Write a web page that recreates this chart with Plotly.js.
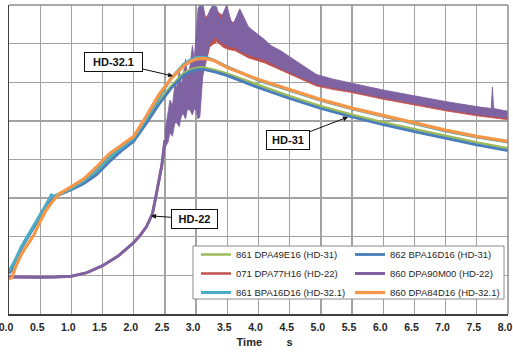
<!DOCTYPE html>
<html><head><meta charset="utf-8">
<script src="https://cdn.plot.ly/plotly-3.0.1.min.js"></script>
<style>html,body{margin:0;padding:0;background:#fff;}#chart{width:513px;height:354px;}</style>
</head><body><div id="chart"></div>
<script>
// ---- data ----
const xTickVals = [0,0.5,1,1.5,2,2.5,3,3.5,4,4.5,5,5.5,6,6.5,7,7.5,8];
const xTickText = ['0.0','0.5','1.0','1.5','2.0','2.5','3.0','3.5','4.0','4.5','5.0','5.5','6.0','6.5','7.0','7.5','8.0'];

const seriesNames = ['861 DPA49E16 (HD-31)','862 BPA16D16 (HD-31)','071 DPA77H16 (HD-22)','860 DPA90M00 (HD-22)','861 BPA16D16 (HD-32.1)','860 DPA84D16 (HD-32.1)'];

// HD-22, smooth rising part (both HD-22 gauges)
const hd22X = [0,0.25,0.5,0.75,1.0,1.25,1.5,1.75,2.0,2.1,2.2,2.25,2.3,2.35,2.4,2.45,2.5];
const hd22Y = [0.96,0.95,0.95,0.96,0.98,1.07,1.25,1.5,1.85,2.03,2.25,2.42,2.6,3.0,3.4,3.85,4.5];

// HD-22 noisy part, envelope of 860 DPA90M00
const bandX       = [2.5,2.55,2.58,2.62,2.66,2.69,2.73,2.76,2.79,2.83,2.86,2.9,2.94,2.97,3.0,3.03,3.06,3.11,3.16,3.22,3.27,3.33,3.38,3.44,3.49,3.54,3.58,3.62,3.7,3.84,3.95,4.1,4.2,4.37,4.65,4.93,5.2,5.47,6.0,6.5,7.0,7.5,7.73,7.75,7.77,8.0];
const purpleUpper = [4.7,5.3,5.54,5.4,5.95,5.88,6.3,5.95,6.14,6.6,6.2,6.4,6.95,6.6,7.27,7.9,8.0,8.0,7.6,7.87,8.0,7.95,7.6,7.8,8.0,7.7,7.5,7.6,7.9,7.43,7.3,7.1,6.95,6.8,6.5,6.2,6.08,5.98,5.8,5.65,5.5,5.37,5.32,5.88,5.32,5.25];
const purpleLower = [4.3,4.45,4.69,4.6,4.95,4.95,4.85,5.1,5.2,5.05,5.3,5.28,5.15,5.3,5.28,5.05,5.1,6.24,6.6,7.0,7.1,7.17,7.05,7.0,6.95,6.92,6.9,6.91,6.8,6.71,6.65,6.58,6.5,6.35,6.15,5.95,5.85,5.78,5.6,5.45,5.3,5.17,5.12,5.12,5.12,5.07];

// HD-22 noisy part, envelope of 071 DPA77H16
const redX     = [3.0,3.11,3.22,3.33,3.44,3.54,3.62,3.84,4.1,4.37,4.65,4.93,5.2,5.47,6.0,6.5,7.0,7.5,8.0];
const redUpper = [7.0,7.6,7.8,7.85,7.7,7.6,7.5,7.3,7.0,6.7,6.4,6.15,6.0,5.9,5.72,5.57,5.42,5.3,5.18];
const redLower = [5.4,6.2,6.92,7.05,6.9,6.84,6.82,6.63,6.5,6.3,6.1,5.9,5.81,5.74,5.56,5.41,5.26,5.13,5.03];

// HD-31
const hd31X  = [0,0.05,0.1,0.2,0.3,0.4,0.5,0.6,0.7,0.8,1.0,1.2,1.4,1.6,1.8,2.0,2.2,2.4,2.6,2.8,2.9,3.0,3.1,3.2,3.3,3.5,4.0,4.5,5.0,5.5,6.0,6.5,7.0,7.5,8.0];
const blueY  = [1.05,1.15,1.35,1.7,1.98,2.25,2.52,2.78,2.98,3.08,3.22,3.38,3.6,3.93,4.22,4.47,4.93,5.42,5.85,6.18,6.27,6.32,6.34,6.3,6.27,6.17,5.86,5.58,5.32,5.1,4.9,4.72,4.55,4.38,4.23];
const greenY = [1.08,1.18,1.38,1.72,2.0,2.28,2.54,2.8,3.0,3.12,3.27,3.44,3.67,4.0,4.28,4.53,5.0,5.5,5.9,6.24,6.32,6.37,6.39,6.35,6.32,6.22,5.92,5.64,5.38,5.16,4.96,4.78,4.61,4.44,4.29];

// HD-32.1
const aquaX  = [0,0.05,0.1,0.2,0.3,0.4,0.5,0.6,0.68,0.72,0.8,1.0,1.2,1.4,1.6,1.8,2.0,2.2,2.4,2.6,2.8,2.9,3.0,3.1,3.2,3.3,3.5,4.0,4.5,5.0,5.5,6.0,6.5,7.0,7.5,8.0];
const aquaY  = [1.1,1.25,1.4,1.75,2.02,2.3,2.55,2.85,3.08,3.05,3.1,3.25,3.45,3.72,4.05,4.3,4.55,5.05,5.6,6.1,6.46,6.57,6.64,6.65,6.62,6.56,6.4,6.05,5.78,5.53,5.31,5.12,4.92,4.74,4.58,4.45];
const orangeX = [0,0.05,0.1,0.2,0.3,0.4,0.5,0.6,0.7,0.8,1.0,1.2,1.4,1.6,1.8,2.0,2.2,2.4,2.6,2.8,2.9,3.0,3.1,3.2,3.3,3.5,4.0,4.5,5.0,5.5,6.0,6.5,7.0,7.5,8.0];
const orangeY = [0.9,0.95,1.2,1.55,1.8,2.05,2.4,2.7,2.92,3.1,3.3,3.5,3.8,4.14,4.37,4.6,5.12,5.67,6.1,6.42,6.53,6.6,6.62,6.6,6.55,6.38,6.07,5.8,5.55,5.33,5.14,4.94,4.76,4.6,4.47];

// ---- styling ----
const C = {green:'#9BBB59', blue:'#4A7EBB', red:'#C0504D', purple:'#7E62A1', aqua:'#4BACC6', orange:'#F79646'};
const FONT = 'Arial, "Liberation Sans", sans-serif';

function lineTrace(name, x, y, color, width, legend, rank){
  return {type:'scatter', mode:'lines', name, x, y, line:{color, width}, legend, legendrank:rank, hoverinfo:'skip'};
}
function bandTrace(x, up, lo, color, group){
  return {type:'scatter', mode:'lines', x:x.concat(x.slice().reverse()), y:up.concat(lo.slice().reverse()),
    fill:'toself', fillcolor:color, line:{color, width:0.8}, showlegend:false, legendgroup:group, hoverinfo:'skip'};
}

const traces = [
  bandTrace(redX, redUpper, redLower, C.red, 'red'),
  Object.assign(lineTrace(seriesNames[2], hd22X, hd22Y, C.red, 2.5, 'legend', 2), {legendgroup:'red'}),
  Object.assign(lineTrace(seriesNames[3], hd22X, hd22Y, C.purple, 3, 'legend2', 2), {legendgroup:'purple'}),
  bandTrace(bandX, purpleUpper, purpleLower, C.purple, 'purple'),
  lineTrace(seriesNames[0], hd31X, greenY, C.green, 2.5, 'legend', 1),
  lineTrace(seriesNames[1], hd31X, blueY, C.blue, 2.8, 'legend2', 1),
  lineTrace(seriesNames[4], aquaX, aquaY, C.aqua, 3, 'legend', 3),
  lineTrace(seriesNames[5], orangeX, orangeY, C.orange, 3.2, 'legend2', 3)
];

const legendBase = {yanchor:'top', xanchor:'left', y:0.2395, bgcolor:'rgba(0,0,0,0)', borderwidth:0,
  font:{family:FONT, size:9.5, color:'#262626'}, tracegroupgap:0, orientation:'v'};

const annFont = {family:FONT, size:11, color:'#111', weight:'bold'};
function callout(text, x, y, ax, ay, w){
  return {x, y, xref:'x', yref:'y', text, ax, ay, axref:'pixel', ayref:'pixel', showarrow:true,
    arrowhead:2, arrowsize:1, arrowwidth:1, arrowcolor:'#111', font:annFont, bgcolor:'#fff',
    bordercolor:'#111', borderwidth:1, borderpad:2, width:w, height:14};
}

const NB = '\u00a0';
const layout = {
  width:513, height:354, margin:{l:9, r:5, t:5, b:40, autoexpand:false},
  paper_bgcolor:'#fff', plot_bgcolor:'#fff', showlegend:true,
  font:{family:FONT, color:'#262626'},
  xaxis:{range:[0,8], tickvals:xTickVals, ticktext:xTickText, showgrid:true, gridcolor:'#a3a3a3', gridwidth:1.3,
    zeroline:false, showline:true, linecolor:'#404040', linewidth:1.5, ticks:'', ticklabelstandoff:3, automargin:false,
    ticklabeloverflow:'allow', ticklabelshift:-3,
    tickfont:{family:FONT, size:10.5, color:'#262626', weight:'bold'},
    title:{text:'\u200b' + NB.repeat(4) + 'Time' + NB.repeat(8) + 's', font:{family:FONT, size:11, color:'#262626', weight:'bold'}, standoff:6}},
  yaxis:{range:[0,8], dtick:1, showgrid:true, gridcolor:'#a3a3a3', gridwidth:1.3, zeroline:false, automargin:false,
    showline:true, linecolor:'#404040', linewidth:1.5, showticklabels:false, ticks:''},
  legend:Object.assign({}, legendBase, {x:0.3747}),
  legend2:Object.assign({}, legendBase, {x:0.6834}),
  shapes:[
    {type:'line', xref:'paper', yref:'paper', x0:0, x1:1, y0:1, y1:1, line:{color:'#8c8c8c', width:1.5}},
    {type:'line', xref:'paper', yref:'paper', x0:1, x1:1, y0:0, y1:1, line:{color:'#8c8c8c', width:1.5}},
    {type:'rect', xref:'paper', yref:'paper', x0:0.3687, x1:0.992, y0:0.0485, y1:0.22, layer:'above',
      fillcolor:'#fff', line:{color:'#8c8c8c', width:1}}
  ],
  annotations:[
    callout('HD-32.1', 2.63, 6.16, -60, -14, 53),
    callout('HD-31', 5.435, 5.10, -60, 23, 38),
    callout('HD-22', 2.277, 2.54, 43, 3, 41)
  ]
};

Plotly.newPlot('chart', traces, layout, {staticPlot:true, displayModeBar:false});
</script>
</body></html>
